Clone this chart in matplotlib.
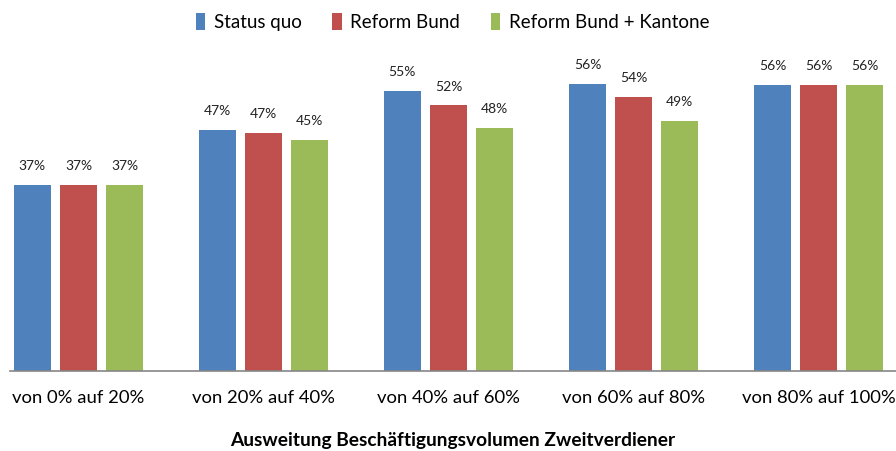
import matplotlib.pyplot as plt
import numpy as np

# Data
categories = ["von 0% auf 20%", "von 20% auf 40%", "von 40% auf 60%",
              "von 60% auf 80%", "von 80% auf 100%"]
series_names = ["Status quo", "Reform Bund", "Reform Bund + Kantone"]
status_quo = [36.6, 47.4, 55.0, 56.4, 56.2]
reform_bund = [36.6, 46.8, 52.2, 53.8, 56.2]
reform_kantone = [36.6, 45.4, 47.7, 49.2, 56.2]
colors = ["#4F81BD", "#C0504D", "#9BBB59"]

plt.rcParams['font.family'] = ['Lato', 'DejaVu Sans']

fig = plt.figure(figsize=(8.96, 4.51), dpi=100)
ax = fig.add_axes([10 / 896, 80 / 451, 886 / 896, 305.4 / 451])

x = np.arange(len(categories))
width = 0.2
pitch = 0.249
handles = []
for i, (vals, name, col) in enumerate(zip([status_quo, reform_bund, reform_kantone], series_names, colors)):
    bars = ax.bar(x + (i - 1) * pitch, vals, width, color=col, label=name, zorder=2)
    handles.append(bars)
    for xi, v in zip(x, vals):
        ax.annotate(f"{round(v)}%", (xi + (i - 1) * pitch, v), xytext=(0, 13.5),
                    textcoords='offset points', ha='center', va='center',
                    fontsize=10, color='#222222')

ax.set_xlim(-0.370, 4.419)
ax.set_ylim(0, 60)
ax.set_xticks(x)
ax.set_xticklabels(categories, fontsize=13.3)
ax.tick_params(axis='x', length=0, pad=13.5)
ax.set_yticks([])
for s in ['top', 'right', 'left']:
    ax.spines[s].set_visible(False)
ax.spines['bottom'].set_color('#868686')
ax.spines['bottom'].set_linewidth(1.2)
ax.set_xlabel("Ausweitung Beschäftigungsvolumen Zweitverdiener", fontsize=13.8,
              fontweight='bold', labelpad=19)

fig.legend(handles=handles, labels=series_names, loc='center', bbox_to_anchor=(0.505, 0.951),
           ncol=3, frameon=False, fontsize=13.5, handlelength=0.5, handleheight=1.0,
           handletextpad=0.45, columnspacing=1.65)

fig.savefig("out.png", dpi=100)
